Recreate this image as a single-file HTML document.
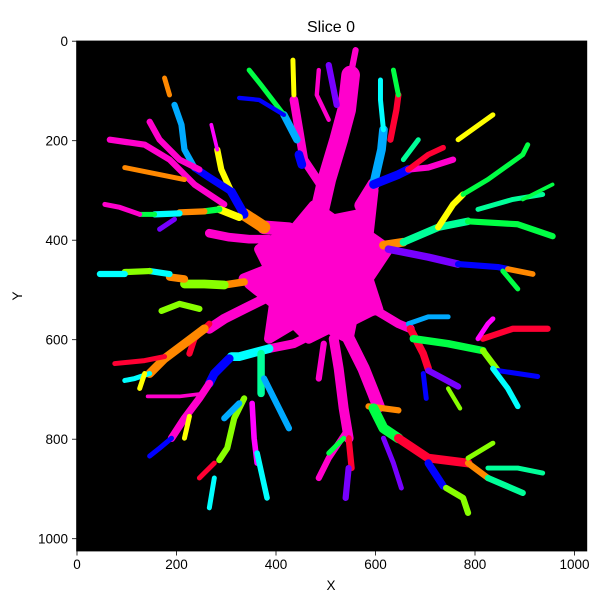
<!DOCTYPE html>
<html><head><meta charset="utf-8"><style>
html,body{margin:0;padding:0;background:#fff;}
svg{display:block;font-family:"Liberation Sans","DejaVu Sans",sans-serif;}
</style></head><body>
<svg id="chart" width="606" height="599" viewBox="0 0 606 599" xmlns="http://www.w3.org/2000/svg">
<text x="331" y="32" text-anchor="middle" font-size="16">Slice 0</text>
<rect x="76.6" y="41" width="510.2" height="510" fill="#000"/>
<g id="marks"></g>
<g id="axes"></g>
<text x="331" y="590" text-anchor="middle" font-size="13.5">X</text>
<text x="22" y="296" text-anchor="middle" font-size="13.5" transform="rotate(-90 22 296)">Y</text>
</svg>
<script>
const xTicks=[0,200,400,600,800,1000];
const yTicks=[0,200,400,600,800,1000];
const bodyOutline=[[396,398],[436,378],[476,330],[516,358],[566,348],[596,300],[586,390],[626,418],[586,478],[606,540],[556,548],[546,598],[506,578],[466,598],[436,568],[386,598],[396,528],[346,488],[386,458],[366,418]];
const branchColors=["#ff00cc","#0000ff","#00aaff","#00ffff","#00ff44","#88ff00","#ffff00","#ff8800","#ff0033","#7700ff","#ff00ff","#00ff99"];
// each: [colorIndex, widthInDataUnits, points...]
const branches=[
[0,30,[486,348],[502,278],[526,198],[542,138],[550,68]],
[9,10,[506,48],[522,128]],
[0,10,[550,68],[560,18]],
[0,14,[496,298],[456,238],[446,178],[436,118]],
[6,8,[436,108],[434,38]],
[2,12,[442,198],[416,148]],
[4,8,[416,148],[370,88],[346,58]],
[1,7,[416,148],[366,118],[326,114]],
[1,14,[446,228],[452,248]],
[0,7,[506,158],[482,108],[486,58]],
[0,20,[570,330],[596,288]],
[2,14,[596,288],[612,218],[616,178]],
[3,8,[616,178],[610,118],[610,78]],
[8,10,[630,198],[642,138],[646,108]],
[4,8,[646,108],[636,58]],
[1,14,[596,288],[646,268],[666,258]],
[0,10,[666,258],[706,254],[756,238]],
[8,9,[666,258],[706,228],[736,214]],
[6,8,[766,198],[836,148]],
[11,8,[656,238],[686,198]],
[7,14,[616,410],[656,404]],
[11,12,[656,404],[726,374],[786,362]],
[4,10,[786,362],[886,368],[956,392]],
[6,10,[726,374],[756,328],[776,308]],
[4,8,[776,308],[826,278],[896,228],[906,208]],
[11,8,[806,338],[876,318],[936,308]],
[4,6,[896,318],[956,288]],
[9,12,[626,418],[706,434],[766,448]],
[1,10,[766,448],[846,454],[866,458]],
[7,9,[866,458],[916,468]],
[4,8,[856,462],[886,498]],
[0,20,[556,558],[596,538]],
[0,14,[596,538],[646,568],[670,578]],
[2,8,[666,568],[706,554],[746,554]],
[8,12,[670,578],[696,628],[706,658]],
[9,10,[706,662],[766,694]],
[1,8,[696,668],[702,718]],
[5,7,[746,698],[770,738]],
[4,12,[676,598],[746,608],[816,622]],
[5,10,[816,622],[846,662]],
[1,8,[846,662],[926,674]],
[3,9,[836,658],[866,698],[886,734]],
[8,10,[816,598],[876,578],[946,578]],
[10,8,[806,598],[826,568],[836,558]],
[0,20,[546,598],[576,658],[596,708],[606,734]],
[7,10,[586,734],[646,742]],
[4,16,[596,738],[616,778],[646,798]],
[8,14,[646,798],[706,838],[786,848]],
[7,10,[786,848],[826,878]],
[11,8,[826,858],[886,858],[936,868]],
[11,10,[826,878],[896,908]],
[5,8,[786,838],[836,808]],
[1,12,[706,848],[736,894]],
[5,10,[742,898],[776,918],[786,948]],
[9,8,[616,798],[636,848],[652,898]],
[0,16,[516,598],[526,658],[536,738],[546,798]],
[8,10,[546,798],[552,858]],
[0,10,[546,778],[506,838],[486,878]],
[9,10,[546,858],[540,918]],
[4,8,[536,798],[506,828]],
[0,10,[496,608],[486,678]],
[0,14,[456,598],[436,608],[386,618]],
[3,14,[386,618],[326,634],[310,634]],
[11,12,[370,628],[370,678],[370,708]],
[2,10,[376,678],[396,718],[426,778]],
[10,9,[352,728],[356,798],[362,848]],
[3,9,[362,828],[382,918]],
[5,10,[336,718],[316,758],[302,818],[286,842]],
[2,10,[326,728],[296,758]],
[8,8,[276,848],[256,868],[246,878]],
[3,8,[276,878],[266,938]],
[1,14,[306,638],[276,668],[266,688]],
[0,12,[266,688],[246,718],[216,758],[190,798]],
[1,8,[190,798],[166,818],[146,834]],
[6,8,[226,754],[216,798]],
[0,6,[256,708],[206,714],[142,714]],
[0,16,[376,518],[336,538],[296,558],[266,578]],
[8,10,[266,568],[236,598],[226,628]],
[7,14,[256,578],[216,608],[176,638],[146,668]],
[8,8,[176,634],[136,642],[76,648]],
[3,8,[146,668],[116,678],[96,682]],
[6,8,[136,668],[126,698]],
[5,10,[246,538],[206,528],[170,542]],
[0,18,[376,462],[336,478]],
[7,12,[336,484],[296,490]],
[5,14,[296,490],[256,488],[216,488]],
[7,12,[216,478],[186,474]],
[3,10,[186,468],[146,462]],
[5,10,[146,462],[96,464]],
[3,10,[96,468],[46,468]],
[0,14,[386,398],[346,398],[306,394],[266,386]],
[0,22,[426,378],[376,374]],
[7,20,[376,374],[336,348]],
[1,14,[336,348],[310,302]],
[6,10,[310,302],[290,258],[282,218]],
[10,6,[282,218],[270,168]],
[1,12,[310,302],[266,274],[236,254]],
[2,10,[236,254],[216,218],[210,168],[196,128]],
[7,8,[186,108],[176,74]],
[0,10,[246,258],[206,238],[166,198],[146,162]],
[0,10,[66,198],[136,208],[186,238],[236,288],[296,328]],
[7,8,[216,278],[136,262],[96,254]],
[6,12,[326,354],[286,338]],
[4,10,[286,338],[256,342]],
[7,10,[256,342],[206,344]],
[3,10,[206,346],[156,348]],
[4,8,[156,348],[126,348]],
[0,8,[126,348],[86,334],[56,328]],
[9,8,[196,358],[166,378]]
];
const SX=0.4975, X0=77, Y0=41.2, WSCALE=1.25;
const xs=v=>X0+v*SX, ys=v=>Y0+v*SX;
const NS="http://www.w3.org/2000/svg";
const marks=document.getElementById('marks');
const body=document.createElementNS(NS,'polygon');
body.setAttribute('points',bodyOutline.map(p=>xs(p[0])+','+ys(p[1])).join(' '));
body.setAttribute('fill','#ff00cc');
body.setAttribute('stroke','#ff00cc');
body.setAttribute('stroke-width','10');
body.setAttribute('stroke-linejoin','round');


marks.appendChild(body);
branches.forEach((b,i)=>{
  const pl=document.createElementNS(NS,'polyline');
  pl.setAttribute('points',b.slice(2).map(p=>xs(p[0])+','+ys(p[1])).join(' '));
  pl.setAttribute('fill','none');
  pl.setAttribute('stroke',branchColors[b[0]]);
  pl.setAttribute('stroke-width',(b[1]*SX*WSCALE).toFixed(2));
  pl.setAttribute('stroke-linecap','round');
  pl.setAttribute('stroke-linejoin','round');
  
  
  marks.appendChild(pl);
});
const axes=document.getElementById('axes');
const frame=document.createElementNS(NS,'rect');
frame.setAttribute('x','76.6');frame.setAttribute('y','41');frame.setAttribute('width','510.2');frame.setAttribute('height','510');
frame.setAttribute('fill','none');frame.setAttribute('stroke','#000');frame.setAttribute('stroke-width','0.8');


axes.appendChild(frame);
xTicks.forEach(t=>{
  const x=xs(t);
  const l=document.createElementNS(NS,'line');
  l.setAttribute('x1',x);l.setAttribute('x2',x);l.setAttribute('y1',551);l.setAttribute('y2',555.5);
  l.setAttribute('stroke','#000');l.setAttribute('stroke-width','0.8');
  
  
  axes.appendChild(l);
  const tx=document.createElementNS(NS,'text');
  tx.setAttribute('x',x);tx.setAttribute('y',569);tx.setAttribute('text-anchor','middle');tx.setAttribute('font-size','13.5');
  tx.textContent=t;
  
  
  axes.appendChild(tx);
});
yTicks.forEach(t=>{
  const y=ys(t);
  const l=document.createElementNS(NS,'line');
  l.setAttribute('x1',72);l.setAttribute('x2',76.6);l.setAttribute('y1',y);l.setAttribute('y2',y);
  l.setAttribute('stroke','#000');l.setAttribute('stroke-width','0.8');
  
  
  axes.appendChild(l);
  const tx=document.createElementNS(NS,'text');
  tx.setAttribute('x',68);tx.setAttribute('y',y+5);tx.setAttribute('text-anchor','end');tx.setAttribute('font-size','13.5');
  tx.textContent=t;
  
  
  axes.appendChild(tx);
});
</script>
</body></html>
